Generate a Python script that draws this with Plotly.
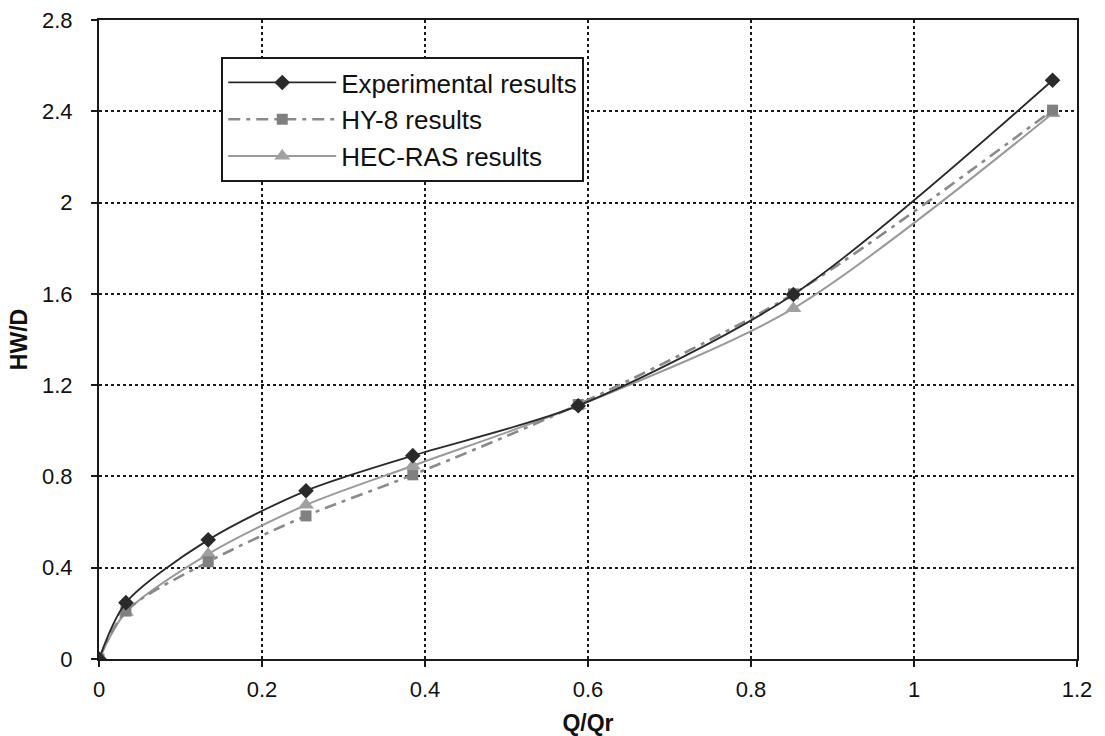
import plotly.graph_objects as go

q = [0, 0.033, 0.134, 0.254, 0.385, 0.588, 0.852, 1.17]
experimental = [0, 0.247, 0.522, 0.737, 0.891, 1.11, 1.597, 2.536]
hy8 = [0, 0.21, 0.426, 0.627, 0.807, 1.115, 1.60, 2.405]
hecras = [0, 0.205, 0.46, 0.675, 0.847, 1.11, 1.536, 2.39]

x_ticks = [0, 0.2, 0.4, 0.6, 0.8, 1.0, 1.2]
x_labels = ["0", "0.2", "0.4", "0.6", "0.8", "1", "1.2"]
y_ticks = [0, 0.4, 0.8, 1.2, 1.6, 2.0, 2.4, 2.8]
y_labels = ["0", "0.4", "0.8", "1.2", "1.6", "2", "2.4", "2.8"]

fig = go.Figure()
fig.add_trace(go.Scatter(
    x=q, y=hecras, name="HEC-RAS results", mode="lines+markers",
    line=dict(color="#9a9a9a", width=2, shape="spline", smoothing=0.8),
    marker=dict(symbol="triangle-up", size=14, color="#a0a0a0")))
fig.add_trace(go.Scatter(
    x=q, y=hy8, name="HY-8 results", mode="lines+markers",
    line=dict(color="#8a8a8a", width=2.6, dash="12px,6px,4px,6px", shape="spline", smoothing=0.8),
    marker=dict(symbol="square", size=11, color="#808080")))
fig.add_trace(go.Scatter(
    x=q, y=experimental, name="Experimental results", mode="lines+markers",
    line=dict(color="#2a2a2a", width=1.8, shape="spline", smoothing=0.8),
    marker=dict(symbol="diamond", size=12, color="#2a2a2a")))

axis_common = dict(
    showline=True, linecolor="#1a1a1a", linewidth=2, mirror=True,
    ticks="outside", ticklen=6, tickwidth=1.5, tickcolor="#1a1a1a",
    showgrid=True, gridcolor="#1a1a1a", gridwidth=2, griddash="dot",
    zeroline=False, automargin=False,
    tickfont=dict(family="Liberation Sans", size=22, color="#111"),
)

fig.update_layout(
    width=1105, height=736,
    margin=dict(l=99, r=28, t=20, b=77),
    paper_bgcolor="white", plot_bgcolor="white",
    font=dict(family="Liberation Sans", color="#111"),
    xaxis=dict(range=[0, 1.2], tickvals=x_ticks, ticktext=x_labels,
               ticklabelstandoff=4,
               title=dict(text="<b>Q/Qr</b>", font=dict(size=23), standoff=18),
               **axis_common),
    yaxis=dict(range=[0, 2.8], tickvals=y_ticks, ticktext=y_labels,
               ticklabelstandoff=14,
               title=dict(text="<b>HW/D</b>", font=dict(size=23), standoff=8),
               **axis_common),
    legend=dict(x=0.125, y=0.942, xanchor="left", yanchor="top",
                bgcolor="white", bordercolor="#1a1a1a", borderwidth=2,
                traceorder="reversed",
                font=dict(family="Liberation Sans", size=26, color="#111"),
                itemwidth=108, tracegroupgap=0),
    showlegend=True,
)

fig.write_html("out.html")
